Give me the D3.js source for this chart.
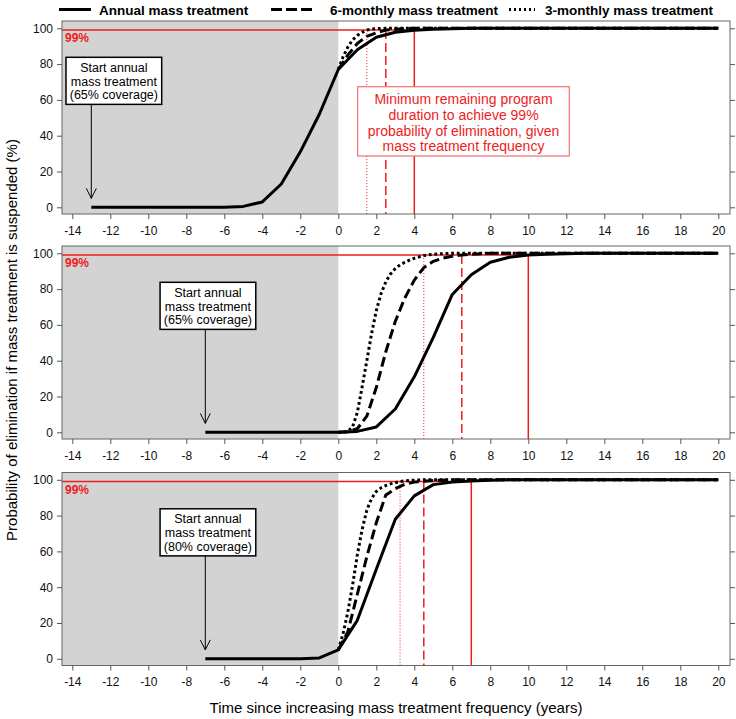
<!DOCTYPE html>
<html>
<head>
<meta charset="utf-8">
<script src="https://cdn.jsdelivr.net/npm/d3@7/dist/d3.min.js"></script>
<style>
  body { margin: 0; background: #fff; }
  svg { display: block; font-family: "Liberation Sans", Arial, sans-serif; }
</style>
</head>
<body>
<svg id="chart" width="736" height="719"></svg>
<script>
// ---------------- DATA ----------------
const seriesNames = ["Annual mass treatment", "6-monthly mass treatment", "3-monthly mass treatment"];
const xTicks = [-14, -12, -10, -8, -6, -4, -2, 0, 2, 4, 6, 8, 10, 12, 14, 16, 18, 20];
const yTicks = [0, 20, 40, 60, 80, 100];
const coverageLabels = ["(65% coverage)", "(65% coverage)", "(80% coverage)"];
const startYears = [-13, -7, -7];
const thresholdPct = 99;

// Panel 1
const p1AnnualX = [-13, -12, -11, -10, -9, -8, -7, -6, -5, -4, -3, -2, -1, 0, 1, 2, 3, 4, 5, 6, 7, 20];
const p1AnnualY = [0, 0, 0, 0, 0, 0, 0, 0, 0.5, 3, 13, 31, 52, 77, 88, 95, 97.8, 98.9, 99.5, 99.8, 100, 100];
const p1SixX = [0, 0.5, 1, 1.5, 2, 2.5, 3, 3.5, 4, 20];
const p1SixY = [77, 85, 91.5, 95.5, 97.5, 99, 99.5, 99.8, 100, 100];
const p1ThreeX = [0, 0.25, 0.5, 0.75, 1, 1.25, 1.5, 1.75, 2, 2.5, 20];
const p1ThreeY = [77, 84, 89.5, 93.5, 96, 97.7, 99, 99.5, 99.8, 100, 100];
const p1MinDuration = [4, 2.5, 1.5];

// Panel 2
const p2AnnualX = [-7, -6, -5, -4, -3, -2, -1, 0, 1, 2, 3, 4, 5, 6, 7, 8, 9, 10, 11, 12, 13, 20];
const p2AnnualY = [0, 0, 0, 0, 0, 0, 0, 0, 0.5, 3, 13, 31, 53, 77, 88, 95, 97.8, 99, 99.5, 99.8, 100, 100];
const p2SixX = [0, 0.5, 1, 1.5, 2, 2.5, 3, 3.5, 4, 4.5, 5, 5.5, 6, 6.5, 7, 7.5, 8, 20];
const p2SixY = [0, 0.3, 2, 9, 25, 45, 62, 75, 85, 92, 95.5, 97.3, 98.4, 99, 99.5, 99.8, 100, 100];
const p2ThreeX = [0, 0.25, 0.5, 0.75, 1, 1.25, 1.5, 1.75, 2, 2.25, 2.5, 2.75, 3, 3.25, 3.5, 3.75, 4, 4.25, 4.5, 4.75, 5, 5.5, 6, 20];
const p2ThreeY = [0, 0, 0.5, 3, 11, 25, 40, 55, 68, 77.5, 84, 88.5, 91.5, 93.5, 95, 96.2, 97.2, 98, 98.7, 99.2, 99.5, 99.8, 100, 100];
const p2MinDuration = [10, 6.5, 4.5];

// Panel 3
const p3AnnualX = [-7, -6, -5, -4, -3, -2, -1, 0, 1, 2, 3, 4, 5, 6, 7, 8, 9, 20];
const p3AnnualY = [0, 0, 0, 0, 0, 0, 0.5, 5, 21.5, 50, 78, 91, 97.3, 98.7, 99.3, 99.7, 100, 100];
const p3SixX = [0, 0.5, 1, 1.5, 2, 2.5, 3, 3.5, 4, 4.5, 5, 5.5, 6, 20];
const p3SixY = [5, 15, 36, 57, 76, 91.5, 95, 97.5, 98.7, 99.2, 99.6, 99.8, 100, 100];
const p3ThreeX = [0, 0.25, 0.5, 0.75, 1, 1.25, 1.5, 1.75, 2, 2.25, 2.5, 2.75, 3, 3.25, 3.5, 4, 4.5, 20];
const p3ThreeY = [5, 14, 26, 41, 58, 72, 83, 89.5, 93.5, 95.5, 96.8, 97.7, 98.4, 99, 99.4, 99.8, 100, 100];
const p3MinDuration = [7, 4.5, 3.25];

const boxLines = ["Minimum remaining program", "duration to achieve 99%", "probability of elimination, given", "mass treatment frequency"];

// ---------------- BUILD ----------------
const zip = (xs, ys) => xs.map((x, i) => ({ x, y: ys[i] }));
const panels = [
  { series: [zip(p1AnnualX, p1AnnualY), zip(p1SixX, p1SixY), zip(p1ThreeX, p1ThreeY)], mins: p1MinDuration },
  { series: [zip(p2AnnualX, p2AnnualY), zip(p2SixX, p2SixY), zip(p2ThreeX, p2ThreeY)], mins: p2MinDuration },
  { series: [zip(p3AnnualX, p3AnnualY), zip(p3SixX, p3SixY), zip(p3ThreeX, p3ThreeY)], mins: p3MinDuration }
];

const RED = "#ee1c1c";
const lineStyles = [
  { w: 3, dash: null },
  { w: 3, dash: "10,4.5" },
  { w: 3, dash: "2.8,2.8" }
];
const redStyles = [
  { w: 1.5, dash: null },
  { w: 1.5, dash: "9,4" },
  { w: 1, dash: "1,2" }
];

const svg = d3.select("#chart");
const W = 668, H = 193, LEFT = 62;
const tops = [21, 246, 472.5];

const x = d3.scaleLinear().domain([-14, 20]).range([10.3, 656.3]);
const y = d3.scaleLinear().domain([0, 100]).range([186.3, 7.3]);

const line = d3.line().x(d => x(d.x)).y(d => y(d.y));

panels.forEach((p, i) => {
  const g = svg.append("g").attr("transform", `translate(${LEFT},${tops[i]})`);

  // gray pre-period
  g.append("rect").attr("x", 0).attr("y", 0)
    .attr("width", x(0)).attr("height", H).attr("fill", "#d3d3d3");

  // red guides
  const clipId = "clip" + i;
  g.append("clipPath").attr("id", clipId).append("rect").attr("width", W).attr("height", H);
  const inner = g.append("g").attr("clip-path", `url(#${clipId})`);

  inner.append("line")
    .attr("x1", 0).attr("x2", x(p.mins[0]))
    .attr("y1", y(thresholdPct)).attr("y2", y(thresholdPct))
    .attr("stroke", RED).attr("stroke-width", 1.5);

  p.mins.forEach((m, k) => {
    inner.append("line")
      .attr("x1", x(m)).attr("x2", x(m))
      .attr("y1", y(thresholdPct)).attr("y2", H)
      .attr("stroke", RED).attr("stroke-width", redStyles[k].w)
      .attr("stroke-dasharray", redStyles[k].dash);
  });

  // curves (draw 3-monthly, 6-monthly, then annual on top)
  [2, 1, 0].forEach(k => {
    inner.append("path").datum(p.series[k])
      .attr("d", line)
      .attr("fill", "none")
      .attr("stroke", "#000")
      .attr("stroke-width", lineStyles[k].w)
      .attr("stroke-dasharray", lineStyles[k].dash)
      .attr("stroke-linejoin", "round");
  });

  // 99% label
  g.append("text").attr("x", 3).attr("y", y(thresholdPct) + 12)
    .attr("fill", RED).attr("font-weight", "bold").attr("font-size", 12)
    .text(thresholdPct + "%");

  // start annotation
  const ax = x(startYears[i]);
  const bxL = i === 0 ? 4 : x(-9.38);
  const bxW = 95.7;
  const byT = y(83.8), byB = y(57.5);
  g.append("line").attr("x1", ax).attr("x2", ax).attr("y1", byB).attr("y2", y(5))
    .attr("stroke", "#000").attr("stroke-width", 1);
  g.append("path")
    .attr("d", `M${ax - 5},${y(5) - 10}L${ax},${y(5)}L${ax + 5},${y(5) - 10}`)
    .attr("fill", "none").attr("stroke", "#000").attr("stroke-width", 1);
  g.append("rect").attr("x", bxL).attr("y", byT).attr("width", bxW).attr("height", byB - byT)
    .attr("fill", "#fff").attr("stroke", "#000").attr("stroke-width", 1.5);
  ["Start annual", "mass treatment", coverageLabels[i]].forEach((t, j) => {
    g.append("text").attr("x", bxL + bxW / 2).attr("y", byT + 14.5 + j * 13.8)
      .attr("text-anchor", "middle").attr("font-size", 12.5).attr("fill", "#000").text(t);
  });

  // red explanation box in panel 1
  if (i === 0) {
    const rx = 357.7 - LEFT, ry = 86.7 - tops[0], rw = 211.6, rh = 69.3;
    g.append("rect").attr("x", rx).attr("y", ry).attr("width", rw).attr("height", rh)
      .attr("fill", "#fff").attr("stroke", "#f07070").attr("stroke-width", 1.2);
    boxLines.forEach((t, j) => {
      g.append("text").attr("x", rx + rw / 2).attr("y", ry + 17.5 + j * 15.7)
        .attr("text-anchor", "middle").attr("font-size", 14).attr("fill", RED).text(t);
    });
  }

  // frame
  g.append("rect").attr("x", 0).attr("y", 0).attr("width", W).attr("height", H)
    .attr("fill", "none").attr("stroke", "#666").attr("stroke-width", 1);

  // axes
  const xa = g.append("g").attr("transform", `translate(0,${H})`)
    .call(d3.axisBottom(x).tickValues(xTicks).tickSize(5).tickPadding(7).tickFormat(d3.format("d")));
  const ya = g.append("g")
    .call(d3.axisLeft(y).tickValues(yTicks).tickSize(5).tickPadding(4));
  const yr = g.append("g").attr("transform", `translate(${W},0)`)
    .call(d3.axisRight(y).tickValues(yTicks).tickSize(5).tickFormat(""));
  [xa, ya, yr].forEach(a => {
    a.select(".domain").remove();
    a.selectAll(".tick line").attr("stroke", "#555");
    a.selectAll(".tick text").attr("font-size", 12).attr("fill", "#111")
      .attr("font-family", "\"Liberation Sans\", Arial, sans-serif");
  });
  xa.selectAll(".tick text").text(d => d < 0 ? "-" + Math.abs(d) : d);
});

// legend
const legendPos = [
  { x1: 59, x2: 91, tx: 99 },
  { x1: 271, x2: 312, tx: 330 },
  { x1: 509, x2: 535, tx: 545 }
];
const legDash = [null, "11,4", "2,3"];
seriesNames.forEach((n, k) => {
  const lp = legendPos[k];
  svg.append("line").attr("x1", lp.x1).attr("x2", lp.x2).attr("y1", 9.5).attr("y2", 9.5)
    .attr("stroke", "#000").attr("stroke-width", 3).attr("stroke-dasharray", legDash[k]);
  svg.append("text").attr("x", lp.tx).attr("y", 14.5)
    .attr("font-size", 13.5).attr("font-weight", "bold").attr("fill", "#000").text(n);
});

// axis titles
svg.append("text").attr("x", 396).attr("y", 713).attr("text-anchor", "middle")
  .attr("font-size", 15).attr("fill", "#000")
  .text("Time since increasing mass treatment frequency (years)");
svg.append("text").attr("transform", "translate(17,340) rotate(-90)")
  .attr("text-anchor", "middle").attr("font-size", 15).attr("fill", "#000")
  .text("Probability of elimination if mass treatment is suspended (%)");
</script>
</body>
</html>
